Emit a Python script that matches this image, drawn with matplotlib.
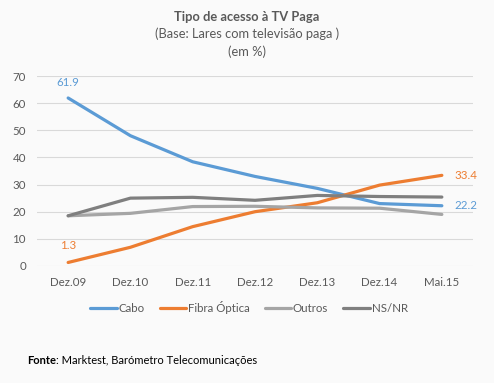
import matplotlib.pyplot as plt

plt.rcParams['font.family'] = ['Lato', 'DejaVu Sans']

periodos = ["Dez.09", "Dez.10", "Dez.11", "Dez.12", "Dez.13", "Dez.14", "Mai.15"]
cabo = [61.9, 48.0, 38.4, 33.0, 28.6, 23.0, 22.2]
fibra = [1.3, 6.9, 14.5, 20.0, 23.3, 29.8, 33.4]
outros = [18.5, 19.4, 21.9, 22.0, 21.4, 21.3, 19.0]
nsnr = [18.5, 25.0, 25.3, 24.2, 26.0, 25.6, 25.4]

cor_texto = "#595959"
fundo = "#fafafa"

fig = plt.figure(figsize=(4.94, 3.83), dpi=100, facecolor=fundo)
ax = fig.add_axes([37/494, 1-266/383, 436/494, 190/383], facecolor=fundo)

x = range(len(periodos))
ax.plot(x, cabo, color="#5B9BD5", lw=2.3, label="Cabo", solid_capstyle="round")
ax.plot(x, fibra, color="#ED7D31", lw=2.3, label="Fibra Óptica", solid_capstyle="round")
ax.plot(x, outros, color="#A5A5A5", lw=2.3, label="Outros", solid_capstyle="round")
ax.plot(x, nsnr, color="#7F7F7F", lw=2.3, label="NS/NR", solid_capstyle="round")

ax.set_xlim(-0.5, 6.5)
ax.set_ylim(0, 70)
ax.set_yticks(range(0, 71, 10))
ax.set_xticks(list(x))
ax.set_xticklabels(periodos)
ax.grid(axis="y", color="#d9d9d9", lw=0.8)
ax.set_axisbelow(True)
for s in ax.spines.values():
    s.set_visible(False)
ax.tick_params(length=0, labelsize=8.3, colors=cor_texto, pad=8)

# rótulos
ax.annotate(f"{cabo[0]}", (0, cabo[0]), xytext=(0, 7), textcoords="offset points",
            ha="center", va="bottom", color="#5B9BD5", fontsize=8.3)
ax.annotate(f"{fibra[0]}", (0, fibra[0]), xytext=(0, 8), textcoords="offset points",
            ha="center", va="bottom", color="#ED7D31", fontsize=8.3)
ax.annotate(f"{fibra[-1]}", (6, fibra[-1]), xytext=(9, 0), textcoords="offset points",
            ha="left", va="center", color="#ED7D31", fontsize=8.3)
ax.annotate(f"{cabo[-1]}", (6, cabo[-1]), xytext=(9, 0), textcoords="offset points",
            ha="left", va="center", color="#5B9BD5", fontsize=8.3)

fig.text(0.5, 1-17/383, "Tipo de acesso à TV Paga", ha="center", va="center",
         fontsize=9.3, fontweight="bold", color=cor_texto)
fig.text(0.5, 1-34/383, "(Base: Lares com televisão paga )", ha="center", va="center",
         fontsize=9.3, color=cor_texto)
fig.text(0.5, 1-52/383, "(em %)", ha="center", va="center", fontsize=9.3, color=cor_texto)

fig.legend(loc="center", bbox_to_anchor=(249/494, 1-308/383), ncol=4, frameon=False,
           fontsize=8.3, labelcolor=cor_texto, handlelength=2.3, handletextpad=0.15,
           columnspacing=1.3)

# fonte: parte em negrito seguida do resto do texto
renderer = fig.canvas.get_renderer()
t_bold = fig.text(27/494, 1-361/383, "Fonte", fontsize=8, fontweight="bold",
                  va="center", color="black")
bb = t_bold.get_window_extent(renderer)
fig.text(bb.x1/fig.bbox.width, 1-361/383, ": Marktest, Barómetro Telecomunicações",
         fontsize=8, va="center", color="black")

fig.savefig("out.png", dpi=100, facecolor=fundo)
